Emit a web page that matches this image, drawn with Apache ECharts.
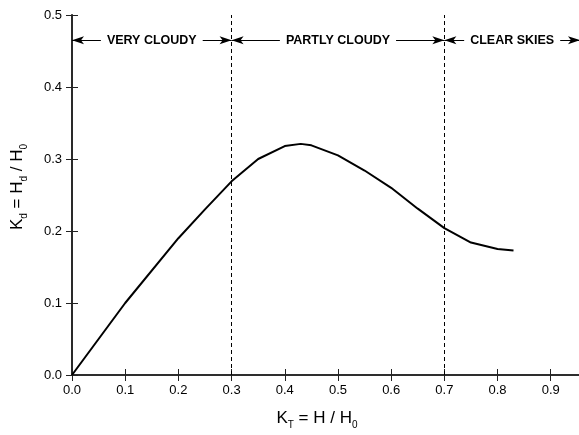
<!DOCTYPE html>
<html>
<head>
<meta charset="utf-8">
<script src="https://cdn.jsdelivr.net/npm/echarts@6/dist/echarts.min.js"></script>
<style>
  html, body { margin: 0; padding: 0; background: #fff; }
  #chart { width: 579px; height: 435px; }
</style>
</head>
<body>
<div id="chart"></div>
<script>
// clearness index vs diffuse fraction
const kT = [0, 0.1, 0.2, 0.25, 0.3, 0.35, 0.4, 0.43, 0.45, 0.5, 0.55, 0.6, 0.65, 0.7, 0.75, 0.8, 0.83]
const kd = [0, 0.1, 0.19, 0.23, 0.269, 0.3, 0.318, 0.321, 0.319, 0.305, 0.284, 0.26, 0.231, 0.204, 0.184, 0.175, 0.173]

const regionBounds = [0, 0.3, 0.7, 0.955]
const regionNames = ['VERY CLOUDY', 'PARTLY CLOUDY', 'CLEAR SKIES']
const regionArrowY = 0.465

const xMax = 0.955
const yMax = 0.5

const chart = echarts.init(document.getElementById('chart'))

const axisColor = '#222'
const font = 'Liberation Sans, Arial, sans-serif'

const regionLines = regionNames.map((name, i) => [
  { coord: [regionBounds[i], regionArrowY], label: { formatter: name } },
  { coord: [regionBounds[i + 1], regionArrowY] }
])

const titleRich = {
  a: { fontFamily: font, fontSize: 17, color: '#000', lineHeight: 20, verticalAlign: 'top' },
  s: { fontFamily: font, fontSize: 10, color: '#000', lineHeight: 20, verticalAlign: 'bottom', padding: [18, 0, 0, 0] }
}

const option = {
  animation: false,
  grid: { left: 72, top: 15, width: 508, height: 360, containLabel: false, outerBoundsMode: 'none' },
  xAxis: [
    {
      type: 'value', min: 0, max: xMax, interval: 0.1,
      axisLine: { lineStyle: { color: axisColor, width: 1.5 } },
      axisTick: { inside: true, length: 6, lineStyle: { color: axisColor } },
      splitLine: { show: false },
      axisLabel: {
        color: '#000', fontFamily: font, fontSize: 13, margin: 9,
        showMaxLabel: false,
        formatter: (v) => v.toFixed(1)
      },
      name: '{a|K}{s|T}{a| = H / H}{s|0}',
      nameLocation: 'middle',
      nameGap: 33,
      nameTextStyle: { padding: [0, 18, 0, 0], rich: titleRich }
    },
    {
      type: 'value', position: 'top', min: 0, max: xMax, interval: 0.1,
      axisLine: { lineStyle: { color: axisColor, width: 1.5 } },
      axisTick: { inside: true, length: 6, lineStyle: { color: axisColor } },
      axisLabel: { show: false },
      splitLine: { show: false }
    }
  ],
  yAxis: [
    {
      type: 'value', min: 0, max: yMax, interval: 0.1,
      axisLine: { show: true, lineStyle: { color: '#444', width: 2 } },
      axisTick: { show: true, inside: true, length: 6, lineStyle: { color: axisColor } },
      splitLine: { show: false },
      axisLabel: {
        color: '#000', fontFamily: font, fontSize: 13, margin: 10,
        formatter: (v) => v.toFixed(1)
      },
      name: '{a|K}{s|d}{a| = H}{s|d}{a| / H}{s|0}',
      nameLocation: 'middle',
      nameGap: 43,
      nameTextStyle: { padding: [0, 0, 0, 16], rich: titleRich }
    },
    {
      type: 'value', position: 'right', min: 0, max: yMax, interval: 0.1,
      axisLine: { show: true, lineStyle: { color: axisColor, width: 1.5 } },
      axisTick: { show: true, inside: true, length: 6, lineStyle: { color: axisColor } },
      axisLabel: { show: false },
      splitLine: { show: false }
    }
  ],
  series: [
    {
      type: 'line',
      data: kT.map((x, i) => [x, kd[i]]),
      symbol: 'none',
      lineStyle: { color: '#000', width: 2 },
      markLine: {
        silent: true,
        symbol: 'none',
        lineStyle: { color: '#000', type: [4, 3], width: 1 },
        label: { show: false },
        data: [{ xAxis: 0.3 }, { xAxis: 0.7 }]
      }
    },
    {
      type: 'line',
      data: [],
      markLine: {
        silent: true,
        symbol: ['arrow', 'arrow'],
        symbolSize: [6, 12],
        lineStyle: { color: '#000', type: 'solid', width: 1 },
        label: {
          show: true,
          position: 'middle',
          distance: 0,
          verticalAlign: 'middle',
          color: '#000',
          fontFamily: font,
          fontSize: 12.5,
          fontWeight: 'bold',
          backgroundColor: '#fff',
          padding: [2, 6]
        },
        data: regionLines
      }
    }
  ]
}

chart.setOption(option)
window.addEventListener('resize', () => chart.resize())
</script>
</body>
</html>
